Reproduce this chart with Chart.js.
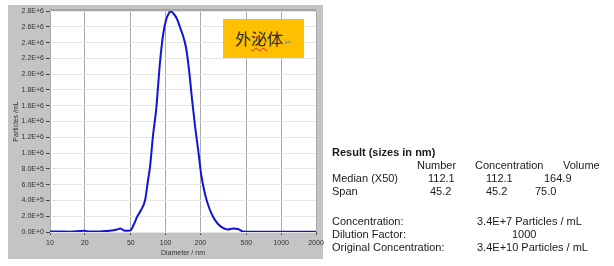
<!DOCTYPE html>
<html>
<head>
<meta charset="utf-8">
<script src="https://cdn.jsdelivr.net/npm/chart.js@4"></script>
<style>
  html, body { margin: 0; padding: 0; background: #fff; }
  #wrap { position: relative; width: 614px; height: 266px; overflow: hidden; }
  #c { position: absolute; left: 0; top: 0; }
  .t { position: absolute; font-family: "Liberation Sans", Arial, sans-serif; font-size: 11px; line-height: 13px; color: #1a1a1a; white-space: nowrap; }
  .b { font-weight: bold; }
  #tag { position: absolute; left: 223px; top: 19px; width: 81px; height: 39px; background: #ffc000; }
  #tag span.cjk { position: absolute; left: 12px; top: 8px; font-family: "Noto Sans CJK SC", sans-serif; font-size: 16px; line-height: 22px; color: #2a2a2a; }
  #tag .sq { text-decoration: underline wavy #e02020; text-decoration-thickness: 1px; text-underline-offset: 2px; }
  #tag .ret { font-family: "DejaVu Sans", sans-serif; font-size: 9px; color: #8a8a8a; margin-left: 1px; }
</style>
</head>
<body>
<div id="wrap">
  <canvas id="c" width="614" height="266"></canvas>
  <div id="tag"><span class="cjk">外<span class="sq">泌</span>体<span class="ret">↵</span></span></div>

  <div class="t b" style="left:332px;top:146px">Result (sizes in nm)</div>
  <div class="t" style="left:417px;top:159px">Number</div>
  <div class="t" style="left:475px;top:159px">Concentration</div>
  <div class="t" style="left:563px;top:159px">Volume</div>
  <div class="t" style="left:332px;top:172px">Median (X50)</div>
  <div class="t" style="left:428px;top:172px">112.1</div>
  <div class="t" style="left:486px;top:172px">112.1</div>
  <div class="t" style="left:544px;top:172px">164.9</div>
  <div class="t" style="left:332px;top:185px">Span</div>
  <div class="t" style="left:430px;top:185px">45.2</div>
  <div class="t" style="left:486px;top:185px">45.2</div>
  <div class="t" style="left:535px;top:185px">75.0</div>
  <div class="t" style="left:332px;top:215px">Concentration:</div>
  <div class="t" style="left:477px;top:215px">3.4E+7 Particles / mL</div>
  <div class="t" style="left:332px;top:228px">Dilution Factor:</div>
  <div class="t" style="left:512px;top:228px">1000</div>
  <div class="t" style="left:332px;top:241px">Original Concentration:</div>
  <div class="t" style="left:477px;top:241px">3.4E+10 Particles / mL</div>
</div>
<script>
// ── Data ─────────────────────────────────────────────────────
const diameters = [10, 12.2, 14.9, 18.2, 19.7, 22.2, 27.1, 33.0, 38.0, 40.4, 43.7, 47.3, 50.2,
  53.3, 56.6, 61.3, 66.5, 70.5, 73.3, 77.9, 82.8, 89.5, 95.1, 100.9, 107.1, 111.1, 118.0,
  125.5, 133.1, 141.6, 150.4, 159.5, 169.6, 180.2, 191.3, 203.4, 220.2, 238.3, 258, 284,
  313, 345, 382, 422, 466, 535, 979, 2000];
const particles = [6300, 6300, 3800, 12700, 15200, 5100, 7600, 15200, 31700, 44300, 19000, 15200, 25300,
  101000, 190000, 279000, 405000, 659000, 824000, 1229000, 1546000, 2154000, 2496000, 2686000, 2775000, 2794000, 2762000,
  2699000, 2597000, 2483000, 2331000, 2053000, 1672000, 1330000, 1039000, 722000, 469000, 304000, 190000, 101000,
  51000, 32000, 44000, 38000, 6300, 2500, 2500, 2500];

const xTicks = [10, 20, 50, 100, 200, 500, 1000, 2000];
const yTicks = [0, 2e5, 4e5, 6e5, 8e5, 1e6, 1.2e6, 1.4e6, 1.6e6, 1.8e6, 2e6, 2.2e6, 2.4e6, 2.6e6, 2.8e6];
const yTickLabels = ["0.0E+0", "2.0E+5", "4.0E+5", "6.0E+5", "8.0E+5", "1.0E+6", "1.2E+6", "1.4E+6",
  "1.6E+6", "1.8E+6", "2.0E+6", "2.2E+6", "2.4E+6", "2.6E+6", "2.8E+6"];

const axisFont = { family: "Liberation Sans", size: 7 };

// gray panel + white plot background
const panel = {
  id: "panel",
  beforeDraw(chart) {
    const { ctx, chartArea: a } = chart;
    ctx.save();
    ctx.fillStyle = "#c4c4c4";
    ctx.fillRect(8, 5, 315, 254);
    ctx.fillStyle = "#ffffff";
    ctx.fillRect(a.left, a.top, a.right - a.left, a.bottom - a.top);
    ctx.restore();
  },
  afterDraw(chart) {
    const { ctx, chartArea: a } = chart;
    ctx.save();
    ctx.strokeStyle = "#a4a4a4";
    ctx.lineWidth = 2;
    ctx.beginPath();
    ctx.moveTo(a.left, a.top - 1); ctx.lineTo(a.right, a.top - 1);
    ctx.stroke();
    ctx.restore();
  },
};

new Chart(document.getElementById("c"), {
  type: "line",
  data: {
    datasets: [{
      data: diameters.map((d, i) => ({ x: d, y: particles[i] })),
      borderColor: "#1414d8", borderWidth: 2, pointRadius: 0,
      cubicInterpolationMode: "monotone", fill: false,
    }],
  },
  options: {
    responsive: false, animation: false,
    layout: { padding: { left: 8, top: 11, right: 298, bottom: 8 } },
    plugins: { legend: { display: false }, tooltip: { enabled: false } },
    scales: {
      x: {
        type: "logarithmic", min: 10, max: 2000,
        afterBuildTicks: s => { s.ticks = xTicks.map(v => ({ value: v })); },
        afterFit: s => { s.height = 26; },
        grid: { color: "#a8a8a8", tickColor: "#555", tickLength: 3, drawOnChartArea: true },
        border: { display: false },
        ticks: { autoSkip: false, maxRotation: 0, padding: 4, color: "#333", font: axisFont, callback: v => String(v) },
        title: { display: true, text: "Diameter / nm", color: "#333", font: axisFont, padding: { top: 0, bottom: 1 } },
      },
      y: {
        min: 0, max: 2.8e6,
        afterBuildTicks: s => { s.ticks = yTicks.map(v => ({ value: v })); },
        afterFit: s => { s.width = 42; },
        grid: { color: "#e6e6e6", tickColor: "#444", tickLength: 4 },
        border: { display: false },
        ticks: { padding: 2, color: "#333", font: axisFont, callback: v => yTickLabels[yTicks.indexOf(v)] },
        title: { display: true, text: "Particles /mL", color: "#333", font: axisFont, padding: { top: 4, bottom: 0 } },
      },
    },
  },
  plugins: [panel],
});
</script>
</body>
</html>
